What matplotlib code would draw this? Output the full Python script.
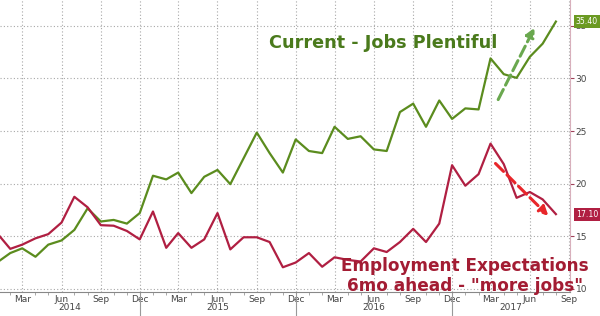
import pandas as pd
import matplotlib
matplotlib.use("Agg")
import matplotlib.pyplot as plt
import matplotlib.dates as mdates
import matplotlib.transforms as mtransforms

# monthly data, Jan 2014 - Aug 2017
dates = pd.date_range("2014-01-01", periods=44, freq="MS")
jobs_plentiful = [12.5, 13.4, 13.85, 13.05, 14.2, 14.6, 15.6, 17.65, 16.4, 16.55, 16.2, 17.2,
                  20.75, 20.4, 21.05, 19.1, 20.65, 21.3, 19.95, 22.4, 24.85, 22.9, 21.05, 24.2,
                  23.1, 22.9, 25.4, 24.25, 24.5, 23.25, 23.1, 26.8, 27.6, 25.4, 27.9, 26.15,
                  27.15, 27.05, 31.9, 30.4, 30.05, 32.05, 33.3, 35.4]
more_jobs = [15.3, 13.8, 14.2, 14.8, 15.2, 16.3, 18.75, 17.75, 16.05, 16.0, 15.5, 14.7,
             17.35, 13.9, 15.3, 13.9, 14.7, 17.2, 13.75, 14.9, 14.9, 14.45, 12.05, 12.5,
             13.4, 12.1, 13.0, 12.75, 12.6, 13.85, 13.5, 14.45, 15.7, 14.45, 16.2, 21.75,
             19.8, 20.9, 23.8, 21.85, 18.65, 19.2, 18.5, 17.1]
years = [2014, 2015, 2016, 2017]
yticks = [10, 15, 20, 25, 30, 35]

green = "#5b8c1e"
green_txt = "#4a7a1c"
red = "#b01f42"
red_txt = "#a31c33"

fig = plt.figure(figsize=(6, 3.16), dpi=100)
ax = fig.add_axes([0, 24 / 316, 570 / 600, 292 / 316])

ax.plot(dates, jobs_plentiful, color=green, lw=1.6)
ax.plot(dates, more_jobs, color=red, lw=1.6)

ax.set_xlim(pd.Timestamp("2014-01-08"), pd.Timestamp("2017-09-03"))
ax.set_ylim(9.7, 37.45)

ax.xaxis.set_major_locator(mdates.MonthLocator(bymonth=[3, 6, 9, 12]))
ax.xaxis.set_major_formatter(mdates.DateFormatter("%b"))
ax.xaxis.set_minor_locator(mdates.MonthLocator())
ax.tick_params(axis="x", which="major", length=0, labelsize=6.5, labelcolor="#444444", pad=2)
ax.tick_params(axis="x", which="minor", length=2, color="#999999")

ax.yaxis.tick_right()
ax.set_yticks(yticks)
ax.tick_params(axis="y", length=3, color="#a0405a", labelsize=6.5, labelcolor="#444444", pad=1)

ax.grid(True, which="major", color="#a8a8a8", ls=(0, (1, 2)), lw=0.8)
for s in ["top", "left"]:
    ax.spines[s].set_visible(False)
ax.spines["right"].set_color("#d8b0bc")
ax.spines["bottom"].set_color("#888888")

# year separators and year labels
trans = mtransforms.blended_transform_factory(ax.transData, ax.transAxes)
x0, x1 = ax.get_xlim()
for i, yr in enumerate(years):
    dec = mdates.date2num(pd.Timestamp(f"{yr}-12-01"))
    start = x0 if i == 0 else mdates.date2num(pd.Timestamp(f"{yr - 1}-12-01"))
    end = min(dec, x1)
    if dec < x1:
        ax.plot([dec, dec], [0, -0.085], transform=trans, color="#999999", lw=0.8, clip_on=False)
    ax.text((start + end) / 2, -0.054, str(yr), transform=trans, ha="center", va="center",
            fontsize=6.5, color="#444444")

# last value tags
ytrans = mtransforms.blended_transform_factory(ax.transAxes, ax.transData)
ax.text(1.01, jobs_plentiful[-1], f"{jobs_plentiful[-1]:.2f}", transform=ytrans, ha="left", va="center",
        fontsize=5.6, color="white", zorder=5,
        bbox=dict(boxstyle="square,pad=0.25", fc="#6b9a22", ec="none"))
ax.text(1.01, more_jobs[-1], f"{more_jobs[-1]:.2f}", transform=ytrans, ha="left", va="center",
        fontsize=5.6, color="white", zorder=5,
        bbox=dict(boxstyle="square,pad=0.25", fc="#b01f42", ec="none"))

# trend arrows
ax.annotate("", xy=(pd.Timestamp("2017-06-15"), 35.05), xytext=(pd.Timestamp("2017-03-16"), 27.75),
            arrowprops=dict(arrowstyle="-|>", color="#6aa84f", lw=2.2, ls="--", mutation_scale=13))
ax.annotate("", xy=(pd.Timestamp("2017-07-19"), 16.75), xytext=(pd.Timestamp("2017-03-08"), 22.1),
            arrowprops=dict(arrowstyle="-|>", color="#e8262a", lw=2.2, ls="--", mutation_scale=13))

fig.text(0.639, 0.865, "Current - Jobs Plentiful", ha="center", va="center",
         fontsize=12.7, fontweight="bold", color=green_txt)
fig.text(0.775, 0.158, "Employment Expectations", ha="center", va="center",
         fontsize=12.2, fontweight="bold", color=red_txt)
fig.text(0.775, 0.095, "6mo ahead - \"more jobs\"", ha="center", va="center",
         fontsize=12.2, fontweight="bold", color=red_txt)

fig.savefig("out.png", dpi=100)
